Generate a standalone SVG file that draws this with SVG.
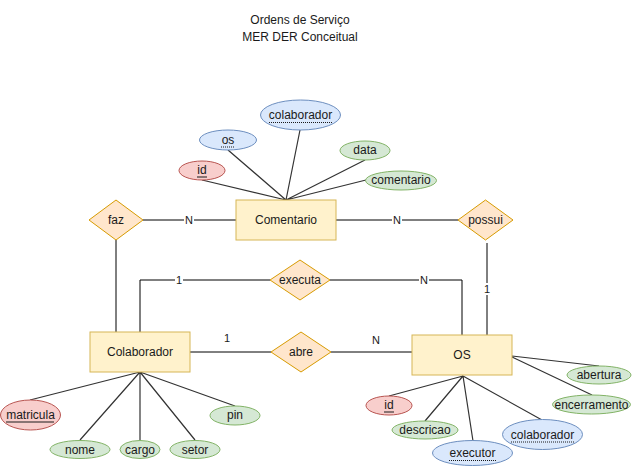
<svg xmlns="http://www.w3.org/2000/svg" width="633" height="466" viewBox="0 0 633 466">
<style>
text{font-family:"Liberation Sans",Arial,sans-serif;font-size:12px;fill:#1a1a1a;text-anchor:middle;dominant-baseline:central}
.ent{fill:#fff2cc;stroke:#d6b656;stroke-width:1}
.rel{fill:#ffe6cc;stroke:#d79b00;stroke-width:1}
.key{fill:#f8cecc;stroke:#b85450;stroke-width:1}
.att{fill:#d5e8d4;stroke:#82b366;stroke-width:1}
.fk{fill:#dae8fc;stroke:#6c8ebf;stroke-width:1}
.ln{stroke:#000;stroke-width:1;fill:none}
.al{stroke:#333;stroke-width:1.2;fill:none}
.lbl{font-size:11px}
.ul{stroke:#1a1a1a;stroke-width:1}
.dot{stroke:#1a1a1a;stroke-width:1;stroke-dasharray:1 1}
</style>
<g id="title"><text x="300" y="20">Ordens de Serviço</text><text x="300" y="37">MER DER Conceitual</text></g>
<g id="connectors">
<path class="ln" d="M143 220H236"/>
<path class="ln" d="M336 220H458"/>
<path class="ln" d="M116 240V332"/>
<path class="ln" d="M140 332V280H270"/>
<path class="ln" d="M330 280H462V335"/>
<path class="ln" d="M487 243V335"/>
<path class="ln" d="M190 352H271"/>
<path class="ln" d="M331 352H412"/>
<path class="al" d="M202 180L286 200M228 150L286 200M300 130L286 200M365 160L286 200M366 180L286 200"/>
<path class="al" d="M30 400L140 372M80 440L140 372M140 440V372M195 440L140 372M235 406L140 372"/>
<path class="al" d="M389 396L463 376M425 421L463 376M473 441L463 376M542 420L463 376M599 366L512 356M592 395L512 357"/>
<rect x="184" y="214" width="10" height="12" fill="#fff"/><text class="lbl" x="189" y="220">N</text>
<rect x="392" y="214" width="10" height="12" fill="#fff"/><text class="lbl" x="397" y="220">N</text>
<rect x="175" y="274" width="8" height="12" fill="#fff"/><text class="lbl" x="179" y="280">1</text>
<rect x="419" y="274" width="10" height="12" fill="#fff"/><text class="lbl" x="424" y="280">N</text>
<rect x="483" y="283" width="8" height="12" fill="#fff"/><text class="lbl" x="487" y="289">1</text>
<text class="lbl" x="227" y="338">1</text>
<text class="lbl" x="376" y="340">N</text>
</g>
<g id="comentario"><rect class="ent" x="236" y="200" width="100" height="40"/><text x="286" y="220">Comentario</text></g>
<g id="colaborador"><rect class="ent" x="90" y="332" width="100" height="40"/><text x="140" y="352">Colaborador</text></g>
<g id="os"><rect class="ent" x="412" y="335" width="100" height="40"/><text x="462" y="355">OS</text></g>
<g id="faz"><path class="rel" d="M89 220L116 200L143 220L116 240Z"/><text x="116" y="220">faz</text></g>
<g id="possui"><path class="rel" d="M458 220L485.5 200L513 220L485.5 240Z"/><text x="485.5" y="220">possui</text></g>
<g id="executa"><path class="rel" d="M270 280L300 260L330 280L300 300Z"/><text x="300" y="280">executa</text></g>
<g id="abre"><path class="rel" d="M271 352L301 332L331 352L301 372Z"/><text x="301" y="352">abre</text></g>
<g id="c-id"><ellipse class="key" cx="202" cy="170.5" rx="23" ry="9.5"/><text x="202" y="170">id</text><line class="ul" x1="197" y1="177" x2="207" y2="177"/></g>
<g id="c-os"><ellipse class="fk" cx="228" cy="140" rx="28.5" ry="10"/><text x="228" y="139.5">os</text><line class="dot" x1="221" y1="147" x2="235" y2="147"/></g>
<g id="c-colaborador"><ellipse class="fk" cx="300.5" cy="115" rx="40" ry="15"/><text x="300.5" y="115">colaborador</text><line class="dot" x1="269" y1="122.5" x2="332" y2="122.5"/></g>
<g id="c-data"><ellipse class="att" cx="365" cy="150.5" rx="25" ry="9.5"/><text x="365" y="150">data</text></g>
<g id="c-comentario"><ellipse class="att" cx="401" cy="180.5" rx="35.5" ry="9.5"/><text x="401" y="180">comentario</text></g>
<g id="col-matricula"><ellipse class="key" cx="30.5" cy="415" rx="30" ry="15"/><text x="30.5" y="415">matricula</text><line class="ul" x1="6" y1="422" x2="54" y2="422"/></g>
<g id="col-nome"><ellipse class="att" cx="80" cy="449.5" rx="30" ry="9"/><text x="80" y="449.5">nome</text></g>
<g id="col-cargo"><ellipse class="att" cx="140" cy="449.5" rx="20" ry="9"/><text x="140" y="449.5">cargo</text></g>
<g id="col-setor"><ellipse class="att" cx="195" cy="449.5" rx="25" ry="9"/><text x="195" y="449.5">setor</text></g>
<g id="col-pin"><ellipse class="att" cx="235" cy="415.5" rx="25" ry="9.5"/><text x="235" y="415">pin</text></g>
<g id="os-id"><ellipse class="key" cx="389" cy="405.5" rx="23" ry="9.5"/><text x="389" y="405">id</text><line class="ul" x1="384" y1="412" x2="394" y2="412"/></g>
<g id="os-descricao"><ellipse class="att" cx="425" cy="430" rx="33" ry="9"/><text x="425" y="430">descricao</text></g>
<g id="os-executor"><ellipse class="fk" cx="472.5" cy="453" rx="40" ry="12.5"/><text x="472.5" y="453">executor</text><line class="dot" x1="449" y1="460.5" x2="496" y2="460.5"/></g>
<g id="os-colaborador"><ellipse class="fk" cx="542.5" cy="434.5" rx="40" ry="15"/><text x="542.5" y="434.5">colaborador</text><line class="dot" x1="511" y1="442" x2="574" y2="442"/></g>
<g id="os-abertura"><ellipse class="att" cx="599" cy="375" rx="32" ry="9"/><text x="599" y="375">abertura</text></g>
<g id="os-encerramento"><ellipse class="att" cx="591.5" cy="404.5" rx="39" ry="9.5"/><text x="591.5" y="404.5">encerramento</text></g>
</svg>
